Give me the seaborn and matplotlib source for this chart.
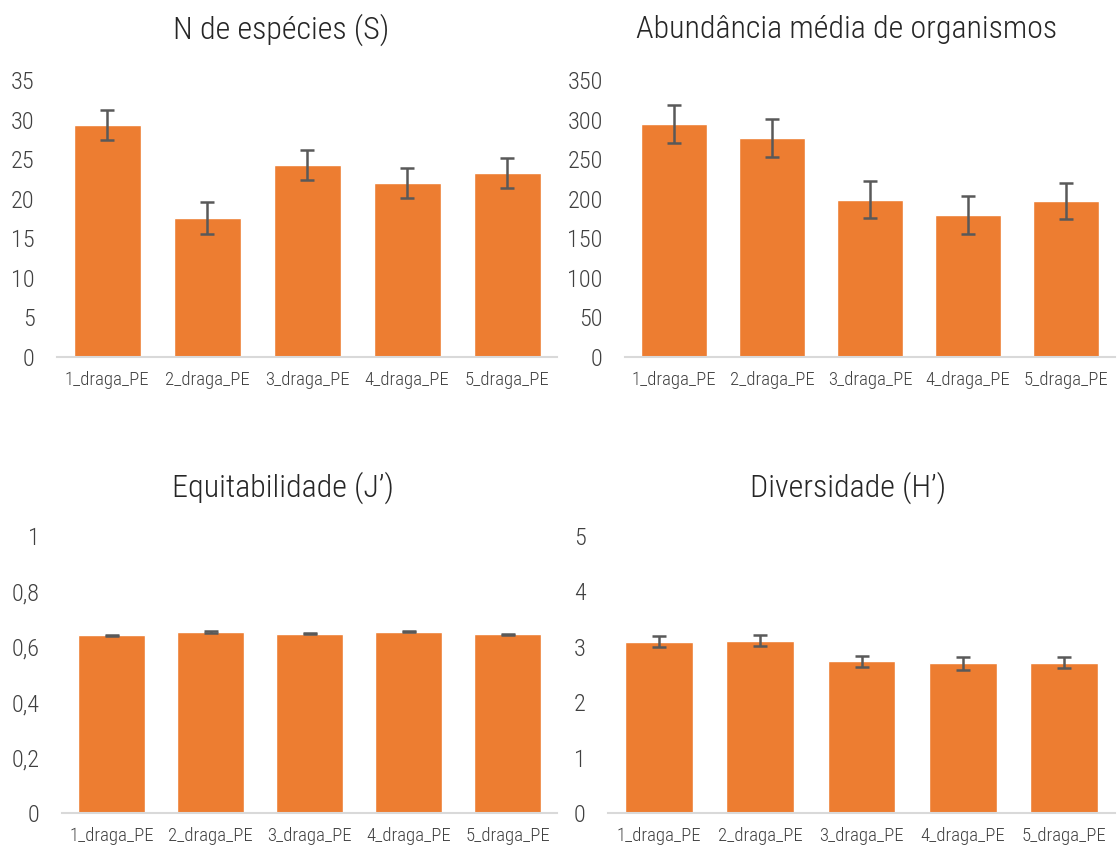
import pandas as pd
import seaborn as sns
import numpy as np
import matplotlib.pyplot as plt
from matplotlib.ticker import FuncFormatter, MultipleLocator

# dados
pontos = ['1_draga_PE', '2_draga_PE', '3_draga_PE', '4_draga_PE', '5_draga_PE']
especies = [29.3, 17.6, 24.3, 22.0, 23.3]
especies_erro = [1.9, 2.0, 1.9, 1.9, 1.9]
abundancia = [294, 277, 199, 180, 197]
abundancia_erro = [24, 24, 24, 24, 23]
equitabilidade = [0.641, 0.654, 0.648, 0.655, 0.645]
equitabilidade_erro = [0.003, 0.003, 0.003, 0.003, 0.003]
diversidade = [3.09, 3.11, 2.74, 2.70, 2.71]
diversidade_erro = [0.10, 0.10, 0.10, 0.11, 0.10]

sns.set_theme(style='white')
plt.rcParams['font.family'] = ['Roboto Condensed', 'Roboto', 'DejaVu Sans']
plt.rcParams['font.weight'] = 'light'

laranja = '#ED7D31'
cinza_txt = '#404040'

fig = plt.figure(figsize=(11.18, 8.48), dpi=100)

paineis = [
    ('N de espécies (S)', especies, especies_erro, 35, 5, [57, 80, 557, 357], 281, 30),
    ('Abundância média de organismos', abundancia, abundancia_erro, 350, 50, [625, 80, 1115, 357], 847, 30),
    ('Equitabilidade (J\u2019)', equitabilidade, equitabilidade_erro, 1, 0.2, [62, 536, 557, 813], 283, 488),
    ('Diversidade (H\u2019)', diversidade, diversidade_erro, 5, 1, [608, 536, 1115, 813], 848, 488),
]

W, H = 1118, 848


def virgula(v, pos):
    s = ('%.1f' % v).rstrip('0').rstrip('.')
    return s.replace('.', ',')


for titulo, vals, erros, ymax, passo, (x0, y0, x1, y1), tx, ty in paineis:
    ax = fig.add_axes([x0 / W, 1 - y1 / H, (x1 - x0) / W, (y1 - y0) / H])
    df = pd.DataFrame({'ponto': pontos, 'valor': vals})
    sns.barplot(data=df, x='ponto', y='valor', color=laranja, saturation=1,
                width=0.67, errorbar=None, ax=ax)
    ax.errorbar(np.arange(len(pontos)), vals, yerr=erros, fmt='none',
                ecolor='#595959', elinewidth=1.8, capsize=5, capthick=1.8)
    ax.set_ylim(0, ymax)
    ax.set_xlim(-0.5, len(pontos) - 0.5)
    ax.yaxis.set_major_locator(MultipleLocator(passo))
    ax.yaxis.set_major_formatter(FuncFormatter(virgula))
    ax.set_xlabel('')
    ax.set_ylabel('')
    for lado in ['top', 'right', 'left']:
        ax.spines[lado].set_visible(False)
    ax.spines['bottom'].set_color('#D9D9D9')
    ax.spines['bottom'].set_linewidth(1.5)
    ax.tick_params(axis='y', labelsize=17.5, colors=cinza_txt, length=0, pad=16)
    ax.tick_params(axis='x', labelsize=13.5, colors=cinza_txt, length=0, pad=10)
    ax.set_facecolor('white')
    fig.text(tx / W, 1 - ty / H, titulo, ha='center', va='center',
             fontsize=23, color='#262626')

fig.savefig('out.png', dpi=100, facecolor='white')
